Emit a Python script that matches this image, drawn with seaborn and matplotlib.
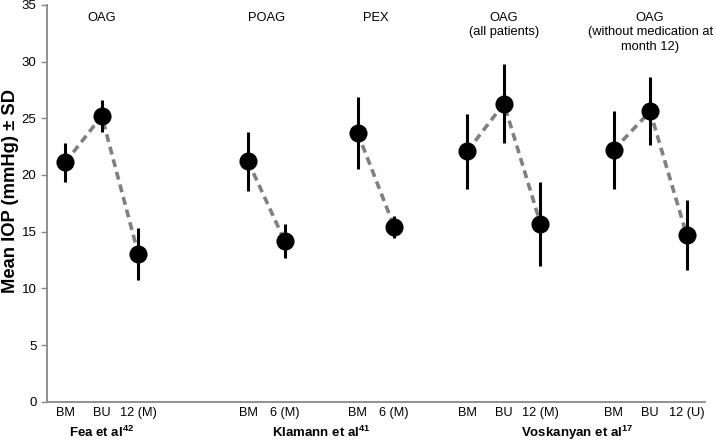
import numpy as np
import pandas as pd
import seaborn as sns
import matplotlib.pyplot as plt
import matplotlib.transforms as mtransforms

# data (mean IOP, SD)
labels = ['BM', 'BU', '12 (M)', 'BM', '6 (M)', 'BM', '6 (M)',
          'BM', 'BU', '12 (M)', 'BM', 'BU', '12 (U)']
slots = [0, 1, 2, 5, 6, 8, 9, 11, 12, 13, 15, 16, 17]
series = ['fea', 'fea', 'fea', 'poag', 'poag', 'pex', 'pex',
          'vall', 'vall', 'vall', 'vnomed', 'vnomed', 'vnomed']
iop = [21.1, 25.2, 13.0, 21.2, 14.2, 23.7, 15.4,
       22.1, 26.3, 15.7, 22.2, 25.6, 14.7]
sd = [1.7, 1.4, 2.3, 2.6, 1.5, 3.2, 1.0,
      3.3, 3.5, 3.7, 3.4, 3.0, 3.1]

top_labels = ['OAG', 'POAG', 'PEX', 'OAG\n(all patients)',
              'OAG\n(without medication at\nmonth 12)']
top_x = [1, 5.5, 8.5, 12, 16]
study_labels = [r'Fea et al$^{\mathbf{42}}$', r'Klamann et al$^{\mathbf{41}}$',
                r'Voskanyan et al$^{\mathbf{17}}$']
study_x = [1, 7, 14]

df = pd.DataFrame({'pos': slots, 'iop': iop, 'sd': sd, 'series': series})

sns.set_style('white')
plt.rcParams['font.family'] = ['Liberation Sans', 'DejaVu Sans']
plt.rcParams['text.color'] = 'black'
plt.rcParams['axes.labelcolor'] = 'black'
plt.rcParams['mathtext.fontset'] = 'custom'
plt.rcParams['mathtext.rm'] = 'Liberation Sans'
plt.rcParams['mathtext.bf'] = 'Liberation Sans:bold'

fig = plt.figure(figsize=(7.16, 4.41), dpi=100)
ax = fig.add_axes([0.0656, 0.089, 0.919, 0.9])

sns.lineplot(data=df, x='pos', y='iop', units='series', estimator=None,
             color='#808080', linewidth=2.6, ax=ax, zorder=1)
for line in ax.get_lines():
    line.set_dashes((2.2, 1.4))

ax.errorbar(df['pos'], df['iop'], yerr=df['sd'], fmt='none',
            ecolor='black', elinewidth=2.2, capsize=0, zorder=2)
sns.scatterplot(data=df, x='pos', y='iop', color='black', s=170,
                edgecolor='black', linewidth=0, ax=ax, zorder=3)

ax.set_xlim(-0.5, 17.5)
ax.set_ylim(0, 35)
ax.set_yticks(np.arange(0, 36, 5))
ax.set_xticks(slots)
ax.set_xticklabels(labels)
ax.tick_params(axis='x', length=0, pad=4, labelsize=9.2, colors='black')
ax.tick_params(axis='y', length=4, width=1, color='#888888', labelsize=9.5,
               labelcolor='black', left=True)
ax.set_xlabel('')
ax.set_ylabel('Mean IOP (mmHg) ± SD', fontsize=13.2, fontweight='bold',
              va='center', color='black')
ax.yaxis.set_label_coords(-0.056, 0.53)

for side in ['top', 'right']:
    ax.spines[side].set_visible(False)
for side in ['left', 'bottom']:
    ax.spines[side].set_color('#888888')
    ax.spines[side].set_linewidth(1.3)

for x, t in zip(top_x, top_labels):
    ax.text(x, 34.4, t, ha='center', va='top', fontsize=9.25, linespacing=1.3)

trans = mtransforms.blended_transform_factory(ax.transData, ax.transAxes)
for x, t in zip(study_x, study_labels):
    ax.text(x, -0.078, t, transform=trans, ha='center', va='center',
            fontsize=9.5, fontweight='bold')

fig.savefig('out.png', dpi=100)
